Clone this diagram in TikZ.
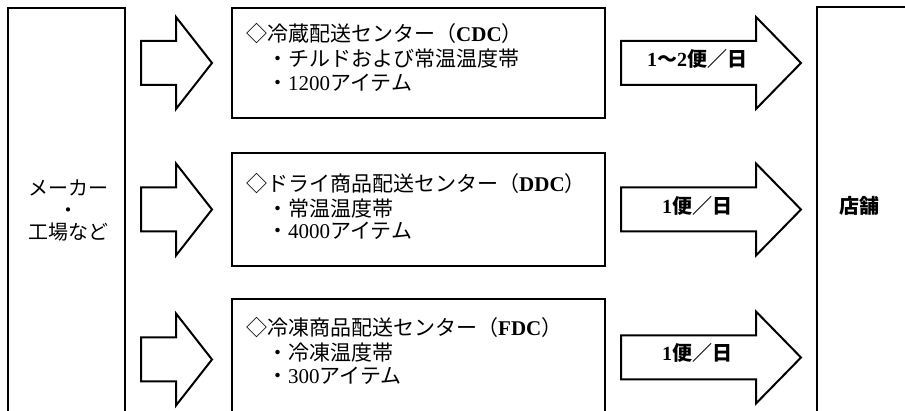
\documentclass[tikz,border=0pt]{standalone}
\usepackage{fontspec}
\setmainfont{Liberation Serif}
\newfontfamily\jp{Noto Sans CJK JP}
\usetikzlibrary{calc}
\tikzset{
  frame/.style={draw=black, line width=2pt, inner sep=0pt},
  barrow/.style={draw=black, line width=2pt, line join=miter, fill=white},
  jtxt/.style={inner sep=0pt, font=\fontsize{21}{25}\selectfont\jp, text height=0.88em, text depth=0.12em},
  jbold/.style={jtxt, font=\fontsize{20}{25}\selectfont\jp\bfseries},
}
\newcommand\blockarrow[3]{%
  \draw[barrow] let \p1=(#1), \p2=(#2) in
    (\x1,\y1+22pt) -- (\x2-#3,\y1+22pt) -- (\x2-#3,\y1+46pt) -- (\x2,\y1)
    -- (\x2-#3,\y1-46pt) -- (\x2-#3,\y1-22pt) -- (\x1,\y1-22pt) -- cycle;}
\begin{document}
\begin{tikzpicture}[x=1pt,y=-1pt]
\fill[white] (0,0) rectangle (905,411);
\useasboundingbox (0,0) rectangle (905,411);
\clip (0,0) rectangle (905,411);
% boxes
\node[frame, minimum width=117pt, minimum height=412pt] (maker) at (66.5,214) {};
\node[frame, minimum width=373pt, minimum height=110pt] (cdc) at (418.5,63) {};
\node[frame, minimum width=373pt, minimum height=113pt] (ddc) at (418.5,209.5) {};
\node[frame, minimum width=373pt, minimum height=121pt] (fdc) at (418.5,359.5) {};
\node[frame, minimum width=183pt, minimum height=413pt] (store) at (908.5,213.5) {};
% inbound arrows
\coordinate (i1s) at ($(maker.east |- cdc.west)+(15,0)$);
\coordinate (i1t) at ($(cdc.west)+(-19,0)$);
\coordinate (i2s) at ($(maker.east |- ddc.west)+(15,0)$);
\coordinate (i2t) at ($(ddc.west)+(-19,0)$);
\coordinate (i3s) at ($(maker.east |- fdc.west)+(15,0)$);
\coordinate (i3t) at ($(fdc.west)+(-19,0)$);
\blockarrow{i1s}{i1t}{36pt}
\blockarrow{i2s}{i2t}{36pt}
\blockarrow{i3s}{i3t}{36pt}
% outbound arrows
\coordinate (o1s) at ($(cdc.east)+(15,0)$);
\coordinate (o1t) at ($(store.west |- cdc.east)+(-15,0)$);
\coordinate (o2s) at ($(ddc.east)+(15,0)$);
\coordinate (o2t) at ($(store.west |- ddc.east)+(-15,0)$);
\coordinate (o3s) at ($(fdc.east)+(15,-2)$);
\coordinate (o3t) at ($(store.west |- fdc.east)+(-15,-2)$);
\blockarrow{o1s}{o1t}{45pt}
\blockarrow{o2s}{o2t}{45pt}
\blockarrow{o3s}{o3t}{45pt}
% texts
\node[inner sep=0pt, font=\fontsize{20}{22}\selectfont\jp, align=center] (makertxt) at (68,210) {メーカー\\・\\工場など};
\node[jbold] (storetxt) at (859,210) {店舗};
\node[jtxt, anchor=west] (cdc1) at (246,38) {◇冷蔵配送センター（{\rmfamily\bfseries CDC}）};
\node[jtxt, anchor=west] (cdc2) at (267,63) {・チルドおよび常温温度帯};
\node[jtxt, anchor=west] (cdc3) at (267,87) {・{\rmfamily 1200}アイテム};
\node[jtxt, anchor=west] (ddc1) at (246,188) {◇ドライ商品配送センター（{\rmfamily\bfseries DDC}）};
\node[jtxt, anchor=west] (ddc2) at (267,213) {・常温温度帯};
\node[jtxt, anchor=west] (ddc3) at (267,235) {・{\rmfamily 4000}アイテム};
\node[jtxt, anchor=west] (fdc1) at (246,332) {◇冷凍商品配送センター（{\rmfamily\bfseries FDC}）};
\node[jtxt, anchor=west] (fdc2) at (267,357) {・冷凍温度帯};
\node[jtxt, anchor=west] (fdc3) at (267,380) {・{\rmfamily 300}アイテム};
\node[jbold] (f1) at (697,63) {{\rmfamily 1}～{\rmfamily 2}便／日};
\node[jbold] (f2) at (697,210) {{\rmfamily 1}便／日};
\node[jbold] (f3) at (697,357) {{\rmfamily 1}便／日};
\end{tikzpicture}
\end{document}
